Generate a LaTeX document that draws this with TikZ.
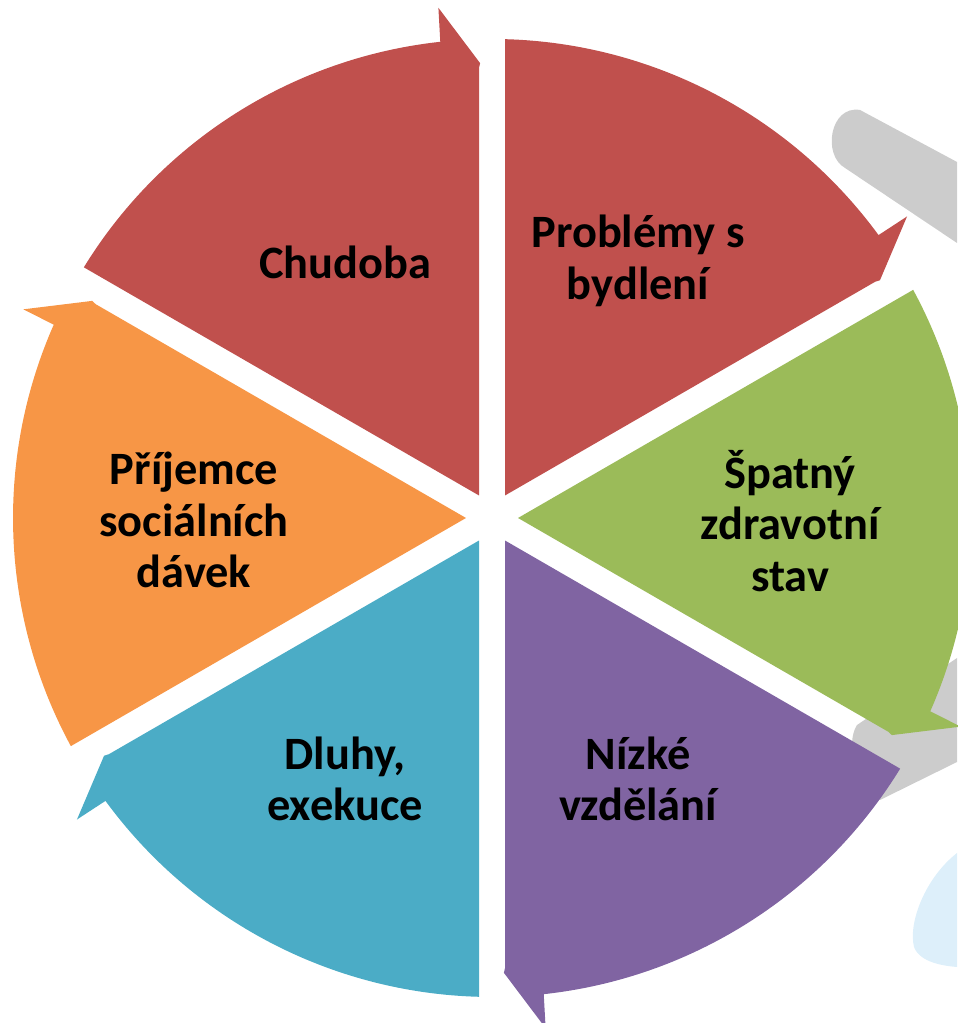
\documentclass[tikz,border=0pt]{standalone}
\usepackage{fontspec}
\setmainfont{Carlito}
\usetikzlibrary{calc}
\definecolor{cred}{HTML}{C0504D}
\definecolor{cgreen}{HTML}{9BBB59}
\definecolor{cpurple}{HTML}{8064A2}
\definecolor{cblue}{HTML}{4BACC6}
\definecolor{corange}{HTML}{F79646}
\definecolor{wmgray}{HTML}{CCCCCC}
\definecolor{wmblue}{HTML}{DDEFFA}
\tikzset{
  lbl/.style={font=\bfseries\fontsize{13.2}{14.7}\selectfont, text=black, align=center, inner sep=0pt},
}
\newcommand\cycseg[2]{%
  \fill[#2] ($(C)+(#1+30:0.26)$) -- ($(C)+(#1+58.444:4.79)$)
    arc[start angle=#1+58.444, end angle=#1+6.2, radius=4.79]
    -- ($(C)+(#1+6:5.13)$) -- ($(C)+(#1+1.5:4.55)$)
    -- ($(C)+(#1:4.5)+(#1+90:0.13)$) -- cycle;}
\begin{document}
\begin{tikzpicture}
\useasboundingbox (0,0) rectangle (9.57,10.23);
\coordinate (C) at (4.92,5.05);
% faint background shapes
\fill[wmgray] (9.57,8.61) -- (8.60,9.13) .. controls (8.30,9.18) and (8.22,8.68) .. (8.45,8.55) -- (9.57,7.80) -- cycle;
\fill[wmgray] (8.57,2.98) -- (9.57,3.65) -- (9.57,2.61) -- (8.80,2.23) .. controls (8.55,2.35) and (8.45,2.80) .. (8.57,2.98) -- cycle;
\fill[wmblue] (9.57,1.70) .. controls (9.25,1.45) and (9.08,1.00) .. (9.14,0.76) .. controls (9.20,0.60) and (9.45,0.57) .. (9.57,0.56) -- cycle;
% segments
\cycseg{90}{cred}
\cycseg{30}{cred}
\cycseg{-30}{cgreen}
\cycseg{-90}{cpurple}
\cycseg{-150}{cblue}
\cycseg{150}{corange}
% labels
\node[lbl] (chudoba) at (3.45,7.61) {Chudoba};
\node[lbl] (bydleni) at (6.38,7.62) {Problémy s\\bydlení};
\node[lbl] (zdravi) at (7.90,5.02) {Špatný\\zdravotní\\stav};
\node[lbl] (vzdelani) at (6.38,2.44) {Nízké\\vzdělání};
\node[lbl] (dluhy) at (3.45,2.44) {Dluhy,\\exekuce};
\node[lbl] (davky) at (1.94,5.03) {Příjemce\\sociálních\\dávek};
\end{tikzpicture}
\end{document}
